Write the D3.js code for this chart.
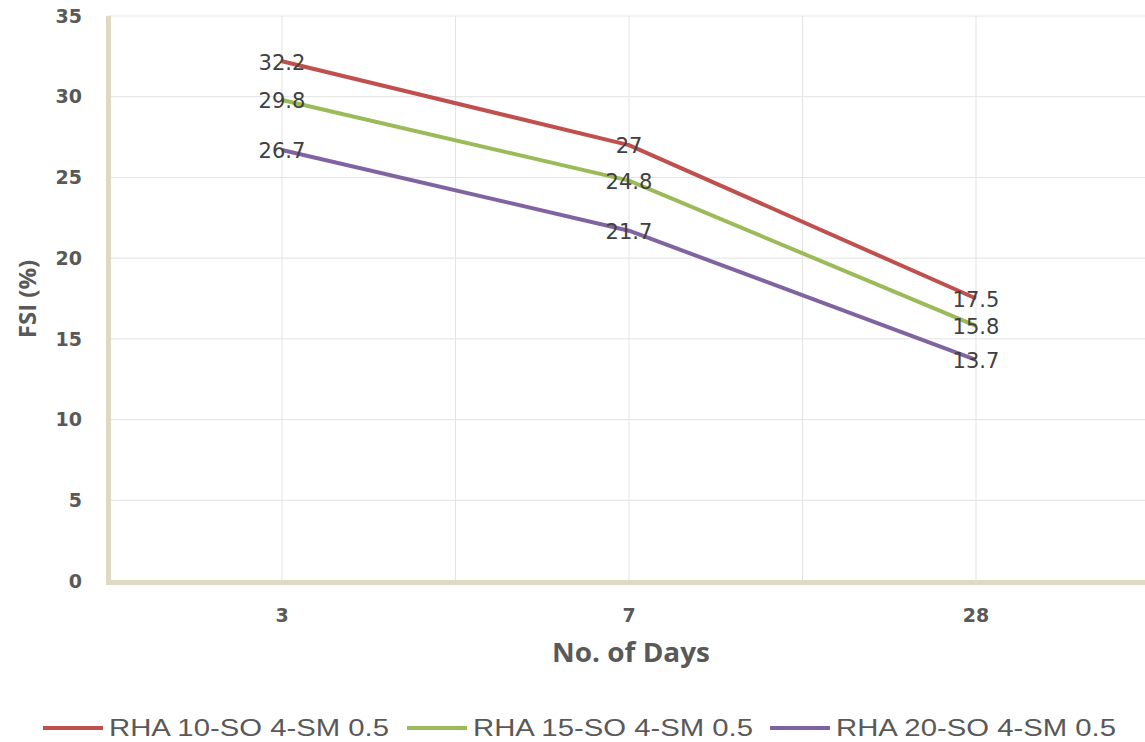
<!DOCTYPE html>
<html>
<head>
<meta charset="utf-8">
<script src="https://cdn.jsdelivr.net/npm/d3@7"></script>
<style>
  html, body { margin: 0; padding: 0; background: #fff; }
  svg { display: block; }
</style>
</head>
<body>
<svg id="chart" width="1145" height="742"></svg>
<script>
// FSI (%) by curing age for three RHA mixes
const days = ["3", "7", "28"];
const seriesNames = ["RHA 10-SO 4-SM 0.5", "RHA 15-SO 4-SM 0.5", "RHA 20-SO 4-SM 0.5"];
const rha10 = [32.2, 27, 17.5];
const rha15 = [29.8, 24.8, 15.8];
const rha20 = [26.7, 21.7, 13.7];
const yTicks = [0, 5, 10, 15, 20, 25, 30, 35];
const colors = ["#c0504d", "#9bbb59", "#8064a2"];

const series = [rha10, rha15, rha20].map((vals, i) => ({
  name: seriesNames[i],
  color: colors[i],
  values: vals.map((v, j) => ({ day: days[j], v }))
}));

const svg = d3.select("#chart");
const plotL = 108.5, plotR = 1149.5, plotT = 16, plotB = 581;

const x = d3.scaleBand().domain(days).range([plotL, plotR]).padding(0);
const y = d3.scaleLinear().domain([0, 35]).range([plotB, plotT]);
const cx = d => x(d) + x.bandwidth() / 2;

const grid = svg.append("g");
// horizontal gridlines
grid.selectAll("line.h").data(yTicks.filter(t => t > 0)).join("line")
  .attr("class", "h")
  .attr("x1", plotL).attr("x2", 1145)
  .attr("y1", d => y(d)).attr("y2", d => y(d))
  .attr("stroke", "#e3e3e3").attr("stroke-width", 1);
// vertical gridlines at category centres and band boundaries
const vx = days.map(cx).concat(days.slice(1).map(d => x(d)));
grid.selectAll("line.v").data(vx).join("line")
  .attr("class", "v")
  .attr("x1", d => d).attr("x2", d => d)
  .attr("y1", plotT).attr("y2", plotB)
  .attr("stroke", "#e3e3e3").attr("stroke-width", 1);

// axis lines
svg.append("line").attr("x1", plotL).attr("x2", plotL).attr("y1", plotT).attr("y2", plotB + 4)
  .attr("stroke", "#ddd9c3").attr("stroke-width", 5);
svg.append("line").attr("x1", plotL - 2.5).attr("x2", 1145).attr("y1", plotB + 1.5).attr("y2", plotB + 1.5)
  .attr("stroke", "#ddd9c3").attr("stroke-width", 5);

// y tick labels
svg.append("g").selectAll("text").data(yTicks).join("text")
  .attr("x", 82).attr("y", d => y(d)).attr("dy", "0.35em")
  .attr("text-anchor", "end")
  .attr("font-family", "DejaVu Sans, Verdana, sans-serif")
  .attr("font-weight", "bold").attr("font-size", 19).attr("fill", "#595959")
  .text(d => d);

// x tick labels
svg.append("g").selectAll("text").data(days).join("text")
  .attr("x", d => cx(d)).attr("y", 615).attr("dy", "0.35em")
  .attr("text-anchor", "middle")
  .attr("font-family", "DejaVu Sans, Verdana, sans-serif")
  .attr("font-weight", "bold").attr("font-size", 19).attr("fill", "#595959")
  .text(d => d);

// axis titles
svg.append("text").attr("x", 631).attr("y", 662)
  .attr("text-anchor", "middle")
  .attr("font-family", "Open Sans, Liberation Sans, sans-serif")
  .attr("font-weight", "bold").attr("font-size", 26).attr("fill", "#595959")
  .attr("textLength", 158).attr("lengthAdjust", "spacingAndGlyphs")
  .text("No. of Days");
svg.append("text").attr("transform", "translate(36,299) rotate(-90)")
  .attr("text-anchor", "middle")
  .attr("font-family", "Open Sans, Liberation Sans, sans-serif")
  .attr("font-weight", "bold").attr("font-size", 24).attr("fill", "#595959")
  .text("FSI (%)");

// series lines
const line = d3.line().x(d => cx(d.day)).y(d => y(d.v));
svg.append("g").selectAll("path").data(series).join("path")
  .attr("d", s => line(s.values))
  .attr("fill", "none").attr("stroke", s => s.color)
  .attr("stroke-width", 4).attr("stroke-linejoin", "round");

// data labels centred on each point
series.forEach(s => {
  svg.append("g").selectAll("text").data(s.values).join("text")
    .attr("x", d => cx(d.day)).attr("y", d => y(d.v) + 1).attr("dy", "0.35em")
    .attr("text-anchor", "middle")
    .attr("font-family", "DejaVu Sans, Verdana, sans-serif")
    .attr("font-size", 21).attr("fill", "#404040")
    .text(d => d.v);
});

// legend
const legendX = [43, 407, 770];
const lg = svg.append("g").selectAll("g").data(series).join("g")
  .attr("transform", (d, i) => `translate(${legendX[i]},728)`);
lg.append("line").attr("x1", 0).attr("x2", 60).attr("y1", 0).attr("y2", 0)
  .attr("stroke", d => d.color).attr("stroke-width", 4);
lg.append("text").attr("x", 66).attr("y", 0).attr("dy", "0.35em")
  .attr("font-family", "Liberation Sans Narrow, Arial Narrow, Liberation Sans, sans-serif")
  .attr("font-size", 24).attr("fill", "#595959")
  .attr("textLength", 280).attr("lengthAdjust", "spacingAndGlyphs")
  .text(d => d.name);
</script>
</body>
</html>
